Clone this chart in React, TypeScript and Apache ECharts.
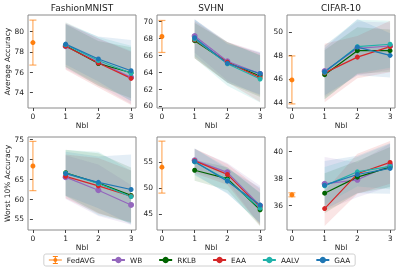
import React, { useEffect, useRef } from "react";
import * as echarts from "echarts";

const nbl = [1, 2, 3];
const methods = ["WB", "RKLB", "EAA", "AALV", "GAA"];
const methodColors = ["#9467bd", "#006400", "#d62728", "#20b2aa", "#1f77b4"];
const datasets = ["FashionMNIST", "SVHN", "CIFAR-10"];
const rowLabels = ["Average Accuracy", "Worst 10% Accuracy"];

// FedAVG (Nbl = 0): panels in order FMNIST avg, SVHN avg, CIFAR avg, FMNIST worst, SVHN worst, CIFAR worst
const fedavgMean = [78.9, 68.25, 45.9, 68.3, 54.0, 36.78];
const fedavgErr = [2.2, 1.9, 2.05, 6.2, 5.0, 0.15];

// means per method [WB, RKLB, EAA, AALV, GAA] at Nbl = 1,2,3
const fmnistAvgMean = [
  [78.55, 77.0, 75.5],
  [78.6, 76.85, 75.95],
  [78.55, 76.9, 75.4],
  [78.7, 77.15, 75.9],
  [78.75, 77.3, 76.15],
];
const fmnistAvgStd = [
  [2.2, 2.3, 2.6],
  [2.1, 2.2, 2.5],
  [2.3, 2.4, 2.6],
  [2.2, 2.3, 2.7],
  [2.0, 2.2, 3.0],
];
const svhnAvgMean = [
  [68.3, 65.3, 63.8],
  [67.75, 65.15, 63.55],
  [67.85, 65.2, 63.35],
  [67.95, 65.0, 63.2],
  [68.1, 65.05, 63.85],
];
const svhnAvgStd = [
  [2.0, 2.3, 2.6],
  [2.1, 2.4, 2.5],
  [2.2, 2.4, 2.9],
  [2.3, 2.6, 2.8],
  [2.2, 2.3, 2.5],
];
const cifarAvgMean = [
  [46.65, 48.6, 48.8],
  [46.35, 48.4, 48.4],
  [46.5, 47.85, 48.75],
  [46.55, 48.75, 48.95],
  [46.6, 48.7, 48.0],
];
const cifarAvgStd = [
  [2.2, 2.3, 2.0],
  [2.1, 2.0, 1.8],
  [2.5, 1.8, 2.2],
  [2.3, 2.3, 2.0],
  [2.0, 2.4, 1.9],
];
const fmnistWorstMean = [
  [65.5, 62.2, 58.5],
  [66.6, 64.0, 60.9],
  [65.7, 63.3, 60.7],
  [66.5, 63.9, 60.6],
  [66.4, 64.2, 62.4],
];
const fmnistWorstStd = [
  [5.5, 6.5, 5.0],
  [5.8, 7.5, 7.0],
  [5.5, 7.0, 6.5],
  [5.8, 8.0, 6.5],
  [5.5, 6.5, 8.8],
];
const svhnWorstMean = [
  [55.3, 53.0, 46.6],
  [53.4, 51.8, 45.8],
  [55.2, 52.6, 46.3],
  [55.0, 51.5, 46.1],
  [55.1, 51.3, 46.7],
];
const svhnWorstStd = [
  [2.2, 1.8, 3.8],
  [2.0, 2.2, 3.2],
  [2.4, 2.0, 3.5],
  [2.6, 2.5, 3.0],
  [2.5, 2.4, 3.4],
];
const cifarWorstMean = [
  [37.6, 37.9, 39.0],
  [36.9, 38.1, 38.85],
  [35.75, 38.35, 39.2],
  [37.45, 38.5, 38.9],
  [37.5, 38.3, 38.75],
];
const cifarWorstStd = [
  [2.0, 1.3, 1.6],
  [1.5, 1.2, 1.5],
  [1.3, 1.5, 1.6],
  [1.4, 1.1, 1.7],
  [1.8, 1.4, 1.9],
];

const panelMeans = [fmnistAvgMean, svhnAvgMean, cifarAvgMean, fmnistWorstMean, svhnWorstMean, cifarWorstMean];
const panelStds = [fmnistAvgStd, svhnAvgStd, cifarAvgStd, fmnistWorstStd, svhnWorstStd, cifarWorstStd];
const xTicks = [0, 1, 2, 3];
const yTicks = [
  [74, 76, 78, 80],
  [60, 62, 64, 66, 68, 70],
  [44, 46, 48, 50],
  [55, 60, 65, 70, 75],
  [45, 50, 55],
  [36, 38, 40],
];
const yRanges = [
  [72.5, 81.6],
  [59.75, 70.8],
  [43.5, 51.45],
  [52.2, 75.6],
  [41.9, 59.8],
  [34.15, 41.1],
];

const FONT = "DejaVu Sans";
const TXT = "#222";
const FED = "#ff7f0e";

export default function App() {
  const ref = useRef<HTMLDivElement>(null);
  useEffect(() => {
    const chart = echarts.init(ref.current!, null, { renderer: "svg" });
    const lefts = [28, 157, 287];
    const tops = [15, 137];
    const W = 108;
    const H = 93;

    const grids: any[] = [];
    const xAxes: any[] = [];
    const yAxes: any[] = [];
    const series: any[] = [];
    const graphics: any[] = [];

    for (let p = 0; p < 6; p++) {
      const col = p % 3;
      const row = Math.floor(p / 3);
      grids.push({
        left: lefts[col],
        top: tops[row],
        width: W,
        height: H,
        show: true,
        borderColor: "#8a8a8a",
        borderWidth: 1,
        backgroundColor: "transparent",
      });
      xAxes.push({
        type: "value",
        gridIndex: p,
        min: -0.15,
        max: 3.15,
        splitLine: { show: false },
        axisLine: { show: false },
        axisTick: { show: true, customValues: xTicks, length: 3, lineStyle: { color: "#444" } },
        axisLabel: {
          customValues: xTicks,
          margin: 4,
          fontSize: 7.5,
          fontFamily: FONT,
          color: TXT,
        },
      });
      yAxes.push({
        type: "value",
        gridIndex: p,
        min: yRanges[p][0],
        max: yRanges[p][1],
        splitLine: { show: false },
        axisLine: { show: false },
        axisTick: { show: true, customValues: yTicks[p], length: 3, lineStyle: { color: "#444" } },
        axisLabel: {
          customValues: yTicks[p],
          margin: 4,
          fontSize: 7.5,
          fontFamily: FONT,
          color: TXT,
        },
      });

      const means = panelMeans[p];
      const stds = panelStds[p];
      for (let m = 0; m < methods.length; m++) {
        const color = methodColors[m];
        const rows = nbl.map((x, i) => [x, means[m][i] - stds[m][i], means[m][i] + stds[m][i]]);
        series.push({
          type: "custom",
          name: `${methods[m]}-band-${p}`,
          xAxisIndex: p,
          yAxisIndex: p,
          encode: { x: 0, y: [1, 2] },
          data: rows,
          silent: true,
          clip: true,
          z: 1,
          renderItem: (params: any, api: any) => {
            if (params.dataIndex !== 0) return null;
            const upper = rows.map((r) => api.coord([r[0], r[2]]));
            const lower = rows.map((r) => api.coord([r[0], r[1]])).reverse();
            return {
              type: "polygon",
              shape: { points: upper.concat(lower) },
              style: { fill: color, opacity: 0.12, stroke: "none" },
            };
          },
        });
      }
      for (let m = 0; m < methods.length; m++) {
        const color = methodColors[m];
        series.push({
          type: "line",
          name: methods[m],
          xAxisIndex: p,
          yAxisIndex: p,
          data: nbl.map((x, i) => [x, means[m][i]]),
          symbol: "circle",
          symbolSize: m === 0 ? 6 : 5,
          lineStyle: { width: 1.2, color },
          itemStyle: { color },
          z: 3,
        });
      }
      series.push({
        type: "custom",
        name: "FedAVG",
        xAxisIndex: p,
        yAxisIndex: p,
        itemStyle: { color: FED },
        encode: { x: 0, y: 1 },
        data: [[0, fedavgMean[p], fedavgErr[p]]],
        z: 4,
        renderItem: (params: any, api: any) => {
          const x = api.value(0);
          const mv = api.value(1);
          const e = api.value(2);
          const pt = api.coord([x, mv + e]);
          const pb = api.coord([x, mv - e]);
          const pm = api.coord([x, mv]);
          const st = { stroke: FED, lineWidth: 1.2, opacity: 0.65 };
          return {
            type: "group",
            children: [
              { type: "line", shape: { x1: pt[0], y1: pt[1], x2: pb[0], y2: pb[1] }, style: st },
              { type: "line", shape: { x1: pt[0] - 3.5, y1: pt[1], x2: pt[0] + 3.5, y2: pt[1] }, style: st },
              { type: "line", shape: { x1: pb[0] - 3.5, y1: pb[1], x2: pb[0] + 3.5, y2: pb[1] }, style: st },
              { type: "circle", shape: { cx: pm[0], cy: pm[1], r: 2.5 }, style: { fill: FED } },
            ],
          };
        },
      });

      graphics.push({
        type: "text",
        x: lefts[col] + W / 2,
        y: tops[row] + H + 17,
        style: {
          text: "Nbl",
          fontSize: 7.5,
          fontFamily: FONT,
          fill: TXT,
          textAlign: "center",
          textVerticalAlign: "middle",
        },
      });
    }

    for (let c = 0; c < 3; c++) {
      graphics.push({
        type: "text",
        x: lefts[c] + W / 2,
        y: 8,
        style: {
          text: datasets[c],
          fontSize: 9,
          fontFamily: FONT,
          fill: TXT,
          textAlign: "center",
          textVerticalAlign: "middle",
        },
      });
    }
    for (let r = 0; r < 2; r++) {
      graphics.push({
        type: "text",
        x: 7.5,
        y: tops[r] + H / 2,
        rotation: Math.PI / 2,
        style: {
          text: rowLabels[r],
          fontSize: 7.5,
          fontFamily: FONT,
          fill: TXT,
          textAlign: "center",
          textVerticalAlign: "middle",
        },
      });
    }

    const legendData: any[] = [
      {
        name: "FedAVG",
        icon: "path://M0,7h26v2h-26z M12,0h2v16h-2z M8,0h10v2h-10z M8,14h10v2h-10z M13,4a4,4 0 1,1 -0.01,0z",
      },
      ...methods.map((n) => ({ name: n })),
    ];

    chart.setOption({
      animation: false,
      grid: grids,
      xAxis: xAxes,
      yAxis: yAxes,
      series,
      graphic: graphics,
      legend: {
        data: legendData,
        left: "center",
        top: 254,
        itemWidth: 13,
        itemHeight: 8,
        itemGap: 16,
        padding: [2, 5],
        borderColor: "#d0d0d0",
        borderWidth: 1,
        borderRadius: 2,
        textStyle: { fontSize: 7.3, fontFamily: FONT, color: TXT },
      },
    });
    return () => chart.dispose();
  }, []);
  return (
    <div
      ref={ref}
      style={{ width: 399, height: 272, position: "fixed", left: 0, top: 0 }}
    />
  );
}
